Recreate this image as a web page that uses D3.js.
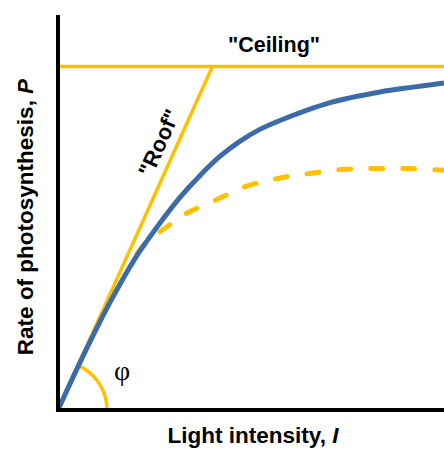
<!DOCTYPE html>
<html><head><meta charset="utf-8">
<script src="https://cdn.jsdelivr.net/npm/d3@7"></script>
<style>html,body{margin:0;padding:0;background:#fff;}svg{display:block;}</style>
</head><body><svg id="c" width="444" height="449"></svg>
<script>
// Data (arbitrary units: light intensity 0-100, rate 0-115)
const lightBlue = [0, 7.0, 13.5, 19.9, 23.3, 27.2, 31.6, 36.8, 42.0, 47.2, 52.3, 57.5, 70.5, 83.4, 92.0, 100];
const rateBlue  = [0, 16.9, 31.4, 44.0, 49.6, 55.6, 61.9, 68.3, 73.9, 78.3, 81.7, 84.3, 89.5, 92.6, 94.0, 95.2];
const lightDash = [20.5, 23.3, 27.7, 32.9, 40.7, 48.7, 57.0, 65.5, 74.4, 82.9, 91.5, 100];
const rateDash  = [45.5, 49.4, 52.9, 57.0, 61.0, 65.1, 67.4, 68.9, 70.1, 70.3, 70.3, 69.8];
const ceilingValue = 100;
const roofX = [0, 40];
const roofY = [0, 100];
const axisMax = { x: 100, y: 115 };
const labels = { x: "Light intensity, ", xVar: "I", y: "Rate of photosynthesis, ", yVar: "P", ceiling: "\"Ceiling\"", roof: "\"Roof\"", phi: "φ" };

const svg = d3.select("#c");
const x = d3.scaleLinear().domain([0, axisMax.x]).range([58, 444]);
const y = d3.scaleLinear().domain([0, axisMax.y]).range([410, 15]);
const yellow = "#FFC000", blue = "#3C6BAA";
const font = "'Liberation Sans', Arial, sans-serif";

// Roof
svg.append("line")
  .attr("x1", x(roofX[0])).attr("y1", y(roofY[0]))
  .attr("x2", x(roofX[1])).attr("y2", y(roofY[1]))
  .attr("stroke", yellow).attr("stroke-width", 3.5);
// Ceiling
svg.append("line")
  .attr("x1", x(0)).attr("y1", y(ceilingValue))
  .attr("x2", x(axisMax.x)).attr("y2", y(ceilingValue))
  .attr("stroke", yellow).attr("stroke-width", 3.5);

// Angle arc
const roofAngle = Math.atan2(y(0) - y(roofY[1]), x(roofX[1]) - x(0));
const r = 49;
const arc = d3.arc().innerRadius(r).outerRadius(r)
  .startAngle(Math.PI / 2 - roofAngle).endAngle(Math.PI / 2);
svg.append("path").attr("d", arc())
  .attr("transform", `translate(${x(0)},${y(0)})`)
  .attr("fill", "none").attr("stroke", yellow).attr("stroke-width", 3.5);
svg.append("text").attr("x", 122).attr("y", 380).attr("text-anchor", "middle")
  .attr("font-family", "'Liberation Serif', 'DejaVu Serif', serif").attr("font-size", 28)
  .text(labels.phi);

const line = d3.line().x(d => x(d[0])).y(d => y(d[1])).curve(d3.curveCatmullRom.alpha(0.5));
// Dashed curve
svg.append("path").attr("d", line(d3.zip(lightDash, rateDash)))
  .attr("fill", "none").attr("stroke", yellow).attr("stroke-width", 5)
  .attr("stroke-dasharray", "12,20").attr("stroke-linecap", "round");
// Blue curve
svg.append("path").attr("d", line(d3.zip(lightBlue, rateBlue)))
  .attr("fill", "none").attr("stroke", blue).attr("stroke-width", 5);

// Axes
const xAxis = svg.append("g").attr("transform", `translate(0,${y(0)})`)
  .call(d3.axisBottom(x).tickValues([]).tickSizeOuter(0));
const yAxis = svg.append("g").attr("transform", `translate(${x(0)},0)`)
  .call(d3.axisLeft(y).tickValues([]).tickSizeOuter(0));
svg.selectAll(".domain").attr("stroke", "#000").attr("stroke-width", 4);
xAxis.select(".domain").attr("d", `M${x(0) - 2},0H${x(axisMax.x)}`);
yAxis.select(".domain").attr("d", `M0,${y(axisMax.y)}V${y(0) + 2}`);

// Labels
svg.append("text").attr("x", 274).attr("y", 52).attr("text-anchor", "middle")
  .attr("font-family", font).attr("font-weight", "bold").attr("font-size", 21.5)
  .text(labels.ceiling);
const xl = svg.append("text").attr("x", 253).attr("y", 443).attr("text-anchor", "middle")
  .attr("font-family", font).attr("font-weight", "bold").attr("font-size", 22.5);
xl.append("tspan").text(labels.x);
xl.append("tspan").attr("font-style", "italic").text(labels.xVar);
const yl = svg.append("text").attr("transform", "translate(33,217) rotate(-90)").attr("text-anchor", "middle")
  .attr("font-family", font).attr("font-weight", "bold").attr("font-size", 22.5);
yl.append("tspan").text(labels.y);
yl.append("tspan").attr("font-style", "italic").text(labels.yVar);
const deg = roofAngle * 180 / Math.PI;
svg.append("text").attr("transform", `translate(166,146) rotate(${-deg})`).attr("text-anchor", "middle")
  .attr("font-family", font).attr("font-weight", "bold").attr("font-size", 22)
  .text(labels.roof);
</script></body></html>
